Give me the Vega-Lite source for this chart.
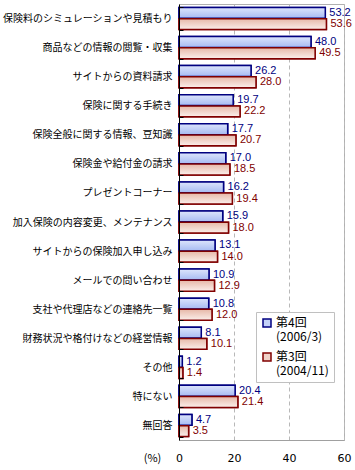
{
  "$schema": "https://vega.github.io/schema/vega-lite/v6.json",
  "autosize": {"type": "none"},
  "padding": {"left": 179, "top": 4, "right": 11, "bottom": 30},
  "width": 165,
  "height": 436,
  "background": "white",
  "config": {
    "view": {"stroke": "#b0b0b0", "strokeWidth": 1},
    "font": "Liberation Sans"
  },
  "data": {
    "values": [
      {"item": "保険料のシミュレーションや見積もり", "series": "第4回", "value": 53.2},
      {"item": "保険料のシミュレーションや見積もり", "series": "第3回", "value": 53.6},
      {"item": "商品などの情報の閲覧・収集", "series": "第4回", "value": 48.0},
      {"item": "商品などの情報の閲覧・収集", "series": "第3回", "value": 49.5},
      {"item": "サイトからの資料請求", "series": "第4回", "value": 26.2},
      {"item": "サイトからの資料請求", "series": "第3回", "value": 28.0},
      {"item": "保険に関する手続き", "series": "第4回", "value": 19.7},
      {"item": "保険に関する手続き", "series": "第3回", "value": 22.2},
      {"item": "保険全般に関する情報、豆知識", "series": "第4回", "value": 17.7},
      {"item": "保険全般に関する情報、豆知識", "series": "第3回", "value": 20.7},
      {"item": "保険金や給付金の請求", "series": "第4回", "value": 17.0},
      {"item": "保険金や給付金の請求", "series": "第3回", "value": 18.5},
      {"item": "プレゼントコーナー", "series": "第4回", "value": 16.2},
      {"item": "プレゼントコーナー", "series": "第3回", "value": 19.4},
      {"item": "加入保険の内容変更、メンテナンス", "series": "第4回", "value": 15.9},
      {"item": "加入保険の内容変更、メンテナンス", "series": "第3回", "value": 18.0},
      {"item": "サイトからの保険加入申し込み", "series": "第4回", "value": 13.1},
      {"item": "サイトからの保険加入申し込み", "series": "第3回", "value": 14.0},
      {"item": "メールでの問い合わせ", "series": "第4回", "value": 10.9},
      {"item": "メールでの問い合わせ", "series": "第3回", "value": 12.9},
      {"item": "支社や代理店などの連絡先一覧", "series": "第4回", "value": 10.8},
      {"item": "支社や代理店などの連絡先一覧", "series": "第3回", "value": 12.0},
      {"item": "財務状況や格付けなどの経営情報", "series": "第4回", "value": 8.1},
      {"item": "財務状況や格付けなどの経営情報", "series": "第3回", "value": 10.1},
      {"item": "その他", "series": "第4回", "value": 1.2},
      {"item": "その他", "series": "第3回", "value": 1.4},
      {"item": "特にない", "series": "第4回", "value": 20.4},
      {"item": "特にない", "series": "第3回", "value": 21.4},
      {"item": "無回答", "series": "第4回", "value": 4.7},
      {"item": "無回答", "series": "第3回", "value": 3.5}
    ]
  },
  "encoding": {
    "y": {
      "field": "item",
      "type": "nominal",
      "sort": null,
      "scale": {"paddingInner": 0.24, "paddingOuter": 0.12},
      "axis": {
        "title": null,
        "labelFont": "Noto Sans CJK JP",
        "labelFontSize": 10,
        "labelColor": "#000000",
        "labelPadding": 11,
        "labelLimit": 200,
        "domainColor": "#000000",
        "domainWidth": 1,
        "tickColor": "#000000",
        "tickSize": -4,
        "tickBand": "extent",
        "grid": false,
        "zindex": 2
      }
    },
    "yOffset": {
      "field": "series",
      "type": "nominal",
      "scale": {"domain": ["第4回", "第3回"], "paddingInner": 0.03, "paddingOuter": 0}
    },
    "x": {
      "field": "value",
      "type": "quantitative",
      "scale": {"domain": [0, 60], "nice": false},
      "axis": {
        "values": [0, 20, 40, 60],
        "title": "(%)",
        "titleX": -27,
        "titleY": 18,
        "titleAlign": "center",
        "titleBaseline": "middle",
        "titleFont": "Noto Sans CJK JP",
        "titleFontSize": 11,
        "titleFontWeight": "normal",
        "titleColor": "#000000",
        "labelFont": "DejaVu Sans",
        "labelFontSize": 11,
        "labelColor": "#000000",
        "labelPadding": 12,
        "labelFlush": false,
        "ticks": false,
        "domainColor": "#a0a0a0",
        "grid": true,
        "gridColor": "#b8b8b8",
        "gridDash": [4, 3],
        "gridWidth": 1
      }
    }
  },
  "layer": [
    {
      "mark": {"type": "bar", "strokeWidth": 1.5},
      "encoding": {
        "fill": {
          "field": "series",
          "type": "nominal",
          "scale": {"domain": ["第4回", "第3回"], "range": ["#c4d2f8", "#f0d2c8"]},
          "legend": {
            "title": null,
            "orient": "none",
            "legendX": 77,
            "legendY": 308,
            "strokeColor": "#c0c0c0",
            "fillColor": "#ffffff",
            "padding": 5,
            "rowPadding": 7,
            "symbolType": "square",
            "symbolSize": 64,
            "symbolStrokeWidth": 1.5,
            "labelFont": "Noto Sans CJK JP",
            "labelFontSize": 12,
            "labelColor": "#000000",
            "labelBaseline": "middle",
            "labelOffset": 3,
            "labelExpr": "datum.label == '第4回' ? ['第4回', '(2006/3)'] : ['第3回', '(2004/11)']"
          }
        },
        "stroke": {
          "field": "series",
          "type": "nominal",
          "scale": {"domain": ["第4回", "第3回"], "range": ["#000080", "#800000"]}
        }
      }
    },
    {
      "transform": [{"filter": "datum.series === '第4回'"}],
      "mark": {
        "type": "bar",
        "stroke": "#000080",
        "strokeWidth": 1.5,
        "fill": {
          "gradient": "linear", "x1": 0, "y1": 0, "x2": 0, "y2": 1,
          "stops": [{"offset": 0, "color": "#dde5fc"}, {"offset": 1, "color": "#a6baf2"}]
        }
      }
    },
    {
      "transform": [{"filter": "datum.series === '第3回'"}],
      "mark": {
        "type": "bar",
        "stroke": "#800000",
        "strokeWidth": 1.5,
        "fill": {
          "gradient": "linear", "x1": 0, "y1": 0, "x2": 0, "y2": 1,
          "stops": [{"offset": 0, "color": "#e6b8a8"}, {"offset": 1, "color": "#fbefeb"}]
        }
      }
    },
    {
      "mark": {"type": "text", "align": "left", "baseline": "middle", "dx": 4, "fontSize": 11, "font": "Liberation Sans"},
      "encoding": {
        "text": {"field": "value", "type": "quantitative", "format": ".1f"},
        "color": {
          "condition": {"test": "datum.series === '第4回'", "value": "#000080"},
          "value": "#800000"
        }
      }
    }
  ]
}
